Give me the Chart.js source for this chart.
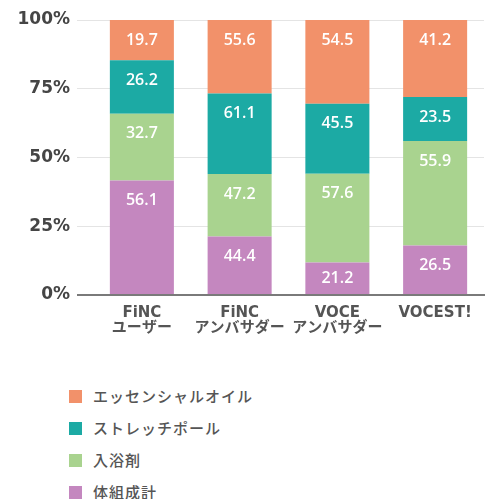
<!DOCTYPE html>
<html>
<head>
<meta charset="utf-8">
<script src="https://cdn.jsdelivr.net/npm/chart.js@4"></script>
<style>
  body { margin: 0; background: #fff; }
  #wrap { position: relative; width: 489px; height: 499px; }
  #legend { position: absolute; left: 69px; top: 380px; }
  .legend-item { height: 32px; line-height: 32px; font-family: "Noto Sans CJK JP", sans-serif; font-size: 15px; font-weight: 500; color: #555; letter-spacing: 1px; }
  .legend-box { display: inline-block; width: 13px; height: 13px; margin-right: 11px; vertical-align: -1px; }
</style>
</head>
<body>
<div id="wrap">
  <canvas id="chart" width="489" height="339"></canvas>
  <div id="legend"></div>
</div>
<script>
// categories (x axis), two lines each
var categories = [['FiNC', 'ユーザー'], ['FiNC', 'アンバサダー'], ['VOCE', 'アンバサダー'], ['VOCEST!']];

// values as printed on the bars
var essentialOil = [19.7, 55.6, 54.5, 41.2];
var stretchPole = [26.2, 61.1, 45.5, 23.5];
var bathSalt = [32.7, 47.2, 57.6, 55.9];
var bodyScale = [56.1, 44.4, 21.2, 26.5];

var seriesNames = ['エッセンシャルオイル', 'ストレッチポール', '入浴剤', '体組成計'];
var seriesColors = ['#f2916a', '#1caaa4', '#a9d38f', '#c487bf'];
var yTicks = [0, 25, 50, 75, 100];

// stacked bottom -> top
var stackOrder = [3, 2, 1, 0];
var seriesValues = [essentialOil, stretchPole, bathSalt, bodyScale];

// each column is drawn as share of its own total (100% stack)
var totals = categories.map(function (c, j) {
    return seriesValues.reduce(function (s, arr) { return s + arr[j]; }, 0);
});

var datasets = stackOrder.map(function (i) {
    return {
        label: seriesNames[i],
        data: seriesValues[i].map(function (v, j) { return v / totals[j] * 100; }),
        printed: seriesValues[i],
        backgroundColor: seriesColors[i],
        borderWidth: 0,
        categoryPercentage: 1,
        barPercentage: 0.655
    };
});

// white value labels near the top of each segment
var valueLabels = {
    id: 'valueLabels',
    afterDatasetsDraw: function (chart) {
        var ctx = chart.ctx;
        ctx.save();
        ctx.fillStyle = '#ffffff';
        ctx.font = '600 16px "Open Sans"';
        ctx.textAlign = 'center';
        ctx.textBaseline = 'middle';
        chart.data.datasets.forEach(function (ds, i) {
            chart.getDatasetMeta(i).data.forEach(function (bar, j) {
                var top = Math.min(bar.y, bar.base);
                var h = Math.abs(bar.base - bar.y);
                ctx.fillText(ds.printed[j].toFixed(1), bar.x, top + Math.min(h / 2, 20));
            });
        });
        ctx.restore();
    }
};

var ctx = document.getElementById('chart').getContext('2d');
var chart = new Chart(ctx, {
    type: 'bar',
    data: { labels: categories, datasets: datasets },
    plugins: [valueLabels],
    options: {
        responsive: false,
        animation: false,
        layout: { padding: { top: 20, right: 5, left: 0, bottom: 0 } },
        plugins: {
            legend: { display: false },
            tooltip: { enabled: false }
        },
        scales: {
            x: {
                stacked: true,
                grid: { display: false },
                border: { display: true, color: '#7a7a7a', width: 2, z: 1 },
                ticks: {
                    color: '#555',
                    padding: 3,
                    font: { family: '"DejaVu Sans", "Noto Sans CJK JP"', size: 15, weight: 'bold', lineHeight: 1.0 }
                }
            },
            y: {
                stacked: true,
                min: 0,
                max: 100,
                afterBuildTicks: function (scale) {
                    scale.ticks = yTicks.map(function (v) { return { value: v }; });
                },
                afterFit: function (scale) { scale.width = 93; },
                border: { display: false },
                grid: {
                    tickLength: 16,
                    color: function (c) { return c.tick && c.tick.value === 0 ? '#7a7a7a' : '#e4e4e4'; },
                    lineWidth: function (c) { return c.tick && c.tick.value === 0 ? 2 : 1; }
                },
                ticks: {
                    color: '#454545',
                    padding: 7,
                    font: { family: '"DejaVu Sans"', size: 17, weight: 'bold' },
                    callback: function (v) { return v + '%'; }
                }
            }
        }
    }
});

// legend, top to bottom
var legend = document.getElementById('legend');
seriesNames.forEach(function (name, i) {
    var item = document.createElement('div');
    item.className = 'legend-item';
    var box = document.createElement('span');
    box.className = 'legend-box';
    box.style.background = seriesColors[i];
    item.appendChild(box);
    item.appendChild(document.createTextNode(name));
    legend.appendChild(item);
});
</script>
</body>
</html>
